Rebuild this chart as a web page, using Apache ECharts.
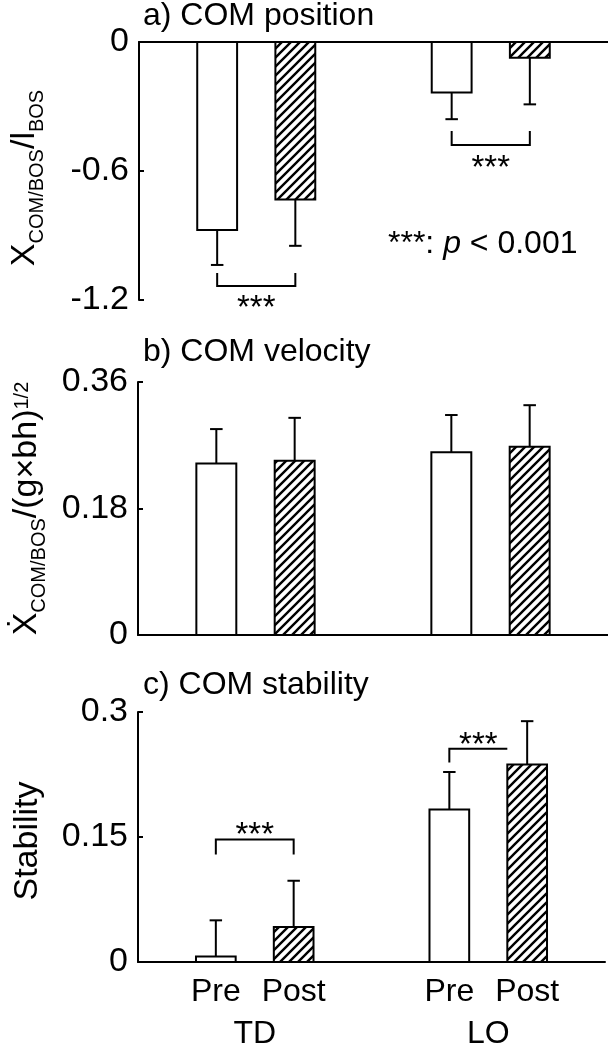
<!DOCTYPE html>
<html><head><meta charset="utf-8">
<script src="https://cdn.jsdelivr.net/npm/echarts@6/dist/echarts.min.js"></script>
<style>html,body{margin:0;padding:0;background:#fff}#c{width:608px;height:1050px}</style>
</head><body><div id="c"></div>
<script>
// ---------- data ----------
const categories = ['', 'Pre', 'Post', '', 'Pre', 'Post', ''];
const groupLabels = ['', '', '', 'TD', '', '', '', '', '', 'LO', '', '', ''];
const barSlots = [1, 2, 4, 5];            // TD Pre, TD Post, LO Pre, LO Post
const hatched = [0, 1, 0, 1];
const positionMean = [-0.874, -0.732, -0.235, -0.073];
const positionErrEnd = [-1.037, -0.948, -0.359, -0.290];
const velocityMean = [0.244, 0.248, 0.260, 0.268];
const velocityErrEnd = [0.293, 0.309, 0.313, 0.327];
const stabilityMean = [0.0067, 0.042, 0.183, 0.237];
const stabilityErrEnd = [0.050, 0.0975, 0.228, 0.289];
// significance brackets: [fromSlot, toSlot, legEnd, level, starsY, hasRightLeg]
const positionBrackets = [[1, 2, -1.074, -1.135, -1.209, 1], [4, 5, -0.414, -0.479, -0.558, 1]];
const stabilityBrackets = [[1, 2, 0.129, 0.147, 0.160, 1], [4, 5, 0.2395, 0.256, 0.268, 0]];
const titles = ['a) COM position', 'b) COM velocity', 'c) COM stability'];
const yRanges = [[-1.2, 0, 0.6], [0, 0.36, 0.18], [0, 0.3, 0.15]];
const noteText = ['***', ': ', 'p', ' < 0.001'];

// ---------- styling ----------
const FONT = "'Liberation Sans', Arial, sans-serif";
const grids = [
  { left: 138, right: 0, top: 42, height: 258 },
  { left: 138, right: 0, top: 382, height: 253 },
  { left: 138, right: 0, top: 712, height: 253 }
];
const titleTops = [0, 336, 669];
const nameGaps = [92, 89, 93];

function makeHatch() {
  const s = 9, c = document.createElement('canvas');
  c.width = s; c.height = s;
  const g = c.getContext('2d');
  g.fillStyle = '#fff'; g.fillRect(0, 0, s, s);
  g.strokeStyle = '#000'; g.lineWidth = 2.4;
  g.beginPath();
  g.moveTo(-2, s + 2); g.lineTo(s + 2, -2);
  g.moveTo(-2, 2); g.lineTo(2, -2);
  g.moveTo(s - 2, s + 2); g.lineTo(s + 2, s - 2);
  g.stroke();
  return c;
}
const hatch = { image: makeHatch(), repeat: 'repeat' };

function barData(mean, err) {
  return barSlots.map((s, i) => [s, mean[i], err[i], hatched[i]]);
}

function renderBar(params, api) {
  const slot = api.value(0), mean = api.value(1), err = api.value(2), h = api.value(3);
  const unit = api.size([1, 0])[0];
  const hw = unit * 0.255, cw = unit * 0.08;
  const base = api.coord([slot, 0]), top = api.coord([slot, mean]), e = api.coord([slot, err]);
  return {
    type: 'group',
    children: [
      { type: 'line', shape: { x1: top[0], y1: top[1], x2: e[0], y2: e[1] }, style: { stroke: '#000', lineWidth: 2 } },
      { type: 'line', shape: { x1: e[0] - cw, y1: e[1], x2: e[0] + cw, y2: e[1] }, style: { stroke: '#000', lineWidth: 2 } },
      { type: 'rect', shape: { x: base[0] - hw, y: Math.min(base[1], top[1]), width: 2 * hw, height: Math.abs(top[1] - base[1]) },
        style: { fill: h ? hatch : '#fff', stroke: '#000', lineWidth: 2 } }
    ]
  };
}

function renderBracket(params, api) {
  const from = api.value(0), to = api.value(1), legEnd = api.value(2), level = api.value(3), starsY = api.value(4), right = api.value(5);
  const unit = api.size([1, 0])[0];
  const a = api.coord([from, legEnd]), b = api.coord([from, level]);
  const c = api.coord([to, level]), d = api.coord([to, legEnd]);
  const xr = right ? c[0] : c[0] - unit * 0.255;
  const pts = right ? [a, b, [xr, b[1]], d] : [a, b, [xr, b[1]]];
  const sy = api.coord([from, starsY])[1];
  return {
    type: 'group',
    children: [
      { type: 'polyline', shape: { points: pts }, style: { stroke: '#000', lineWidth: 2, fill: null } },
      { type: 'text', style: { text: '***', x: (a[0] + xr) / 2, y: sy + 7, align: 'center', verticalAlign: 'middle',
        font: '33px ' + FONT, fill: '#000' } }
    ]
  };
}

const richName = {
  m: { fontSize: 34, fontFamily: FONT, color: '#000', verticalAlign: 'middle' },
  sub: { fontSize: 20, fontFamily: FONT, color: '#000', verticalAlign: 'middle', padding: [24, 0, 0, 0] },
  subEndA: { fontSize: 20, fontFamily: FONT, color: '#000', verticalAlign: 'middle', padding: [24, 14, 0, 0] },
  sup: { fontSize: 20, fontFamily: FONT, color: '#000', verticalAlign: 'middle', padding: [0, 0, 10, 0] },
  mEndC: { fontSize: 34, fontFamily: FONT, color: '#000', verticalAlign: 'middle', padding: [0, 8, 0, 0] }
};
const yNames = [
  '{m|X}{sub|COM/BOS}{m|/l}{subEndA|BOS}',
  '{m|Ẋ}{sub|COM/BOS}{m|/(g×bh)}{sup|1/2}',
  '{mEndC|Stability}'
];

const option = {
  animation: false,
  backgroundColor: '#fff',
  title: titles.map((t, i) => ({ text: t, left: 143, top: titleTops[i], padding: 0,
    textStyle: { fontSize: 32, fontWeight: 'normal', color: '#000', fontFamily: FONT } })),
  grid: grids,
  xAxis: [0, 1, 2].map(i => ({
    gridIndex: i, type: 'category', data: categories, boundaryGap: false,
    axisLine: { show: true, lineStyle: { color: '#000', width: 2 } },
    axisTick: { show: false },
    axisLabel: { show: i === 2, interval: 0, fontSize: 32, color: '#000', fontFamily: FONT, margin: 14 },
    splitLine: { show: false }
  })).concat([{
    gridIndex: 2, type: 'category', data: groupLabels, boundaryGap: false, position: 'bottom',
    axisLine: { show: false }, axisTick: { show: false },
    axisLabel: { interval: 0, fontSize: 32, color: '#000', fontFamily: FONT, margin: 56 },
    splitLine: { show: false }
  }]),
  yAxis: [0, 1, 2].map(i => ({
    gridIndex: i, type: 'value', min: yRanges[i][0], max: yRanges[i][1], interval: yRanges[i][2],
    axisLine: { show: true, onZero: false, lineStyle: { color: '#000', width: 2 } },
    axisTick: { show: true, inside: true, length: 5, lineStyle: { color: '#000', width: 2 } },
    axisLabel: { fontSize: 34, color: '#000', fontFamily: FONT, margin: 10 },
    splitLine: { show: false },
    name: yNames[i], nameLocation: 'middle', nameGap: nameGaps[i], nameRotate: 90, nameMoveOverlap: false,
    nameTextStyle: { rich: richName, fontSize: 34, fontFamily: FONT, color: '#000' }
  })),
  series: [
    { type: 'custom', xAxisIndex: 0, yAxisIndex: 0, data: barData(positionMean, positionErrEnd), renderItem: renderBar, encode: { x: 0, y: [1, 2] } },
    { type: 'custom', xAxisIndex: 1, yAxisIndex: 1, data: barData(velocityMean, velocityErrEnd), renderItem: renderBar, encode: { x: 0, y: [1, 2] } },
    { type: 'custom', xAxisIndex: 2, yAxisIndex: 2, data: barData(stabilityMean, stabilityErrEnd), renderItem: renderBar, encode: { x: 0, y: [1, 2] } },
    { type: 'custom', xAxisIndex: 0, yAxisIndex: 0, data: positionBrackets, renderItem: renderBracket, encode: { x: [0, 1], y: [2, 3, 4] } },
    { type: 'custom', xAxisIndex: 2, yAxisIndex: 2, data: stabilityBrackets, renderItem: renderBracket, encode: { x: [0, 1], y: [2, 3, 4] } }
  ],
  graphic: [{
    type: 'text', left: 388, top: 228,
    style: {
      text: '{n|' + noteText[0] + noteText[1] + '}{i|' + noteText[2] + '}{n|' + noteText[3] + '}',
      rich: {
        n: { fontSize: 32, fontFamily: FONT, fill: '#000' },
        i: { fontSize: 32, fontFamily: FONT, fontStyle: 'italic', fill: '#000' }
      }
    }
  }]
};
const chart = echarts.init(document.getElementById('c'), null, { renderer: 'canvas' });
chart.setOption(option);
</script></body></html>
